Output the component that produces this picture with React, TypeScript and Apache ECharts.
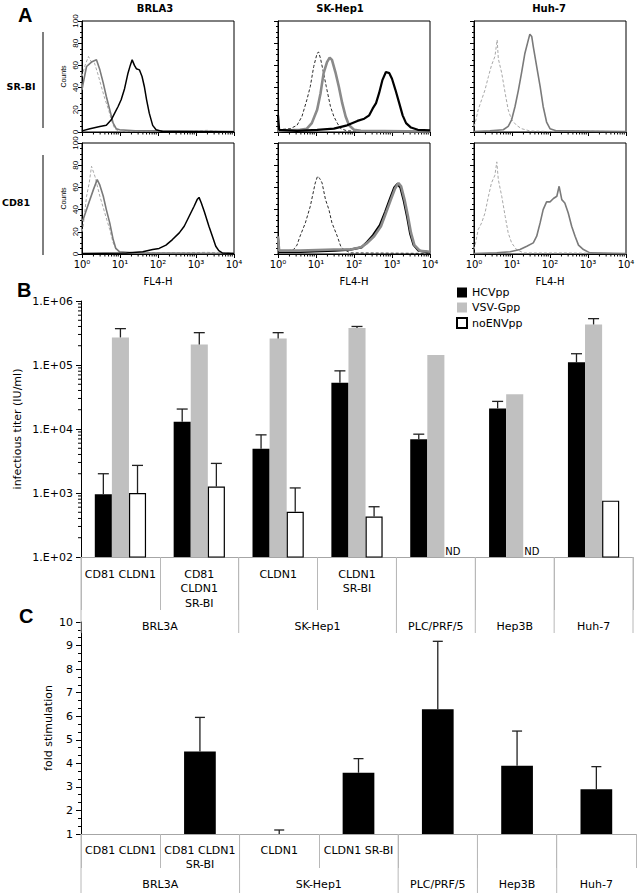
import React, { useEffect, useRef } from "react";
import * as echarts from "echarts";

// ---------------- Panel A : flow cytometry histograms ----------------
// points are [log10(FL4-H), counts]
const brl3aSrbiIso = [[0, 50], [0.08, 60], [0.17, 68], [0.25, 63], [0.33, 62], [0.42, 52], [0.5, 42], [0.6, 30], [0.7, 20], [0.78, 10], [0.86, 3], [0.95, 1], [1.5, 0.5], [2.6, 0.5], [3.3, 1.5], [3.6, 0.5], [4, 0.3]];
const brl3aSrbiGrey = [[0, 38], [0.02, 42], [0.12, 59], [0.25, 63], [0.38, 65], [0.47, 56], [0.56, 44], [0.64, 32], [0.73, 20], [0.82, 8], [0.9, 3], [0.99, 2], [1.4, 1], [2.5, 1], [4, 0.5]];
const brl3aSrbiBlack = [[0, 1], [0.21, 3], [0.47, 5], [0.64, 6], [0.77, 11], [0.86, 17], [0.95, 23], [1.03, 29], [1.12, 39], [1.21, 53], [1.27, 60], [1.32, 65], [1.38, 60], [1.43, 57], [1.51, 56], [1.58, 50], [1.64, 41], [1.7, 29], [1.77, 17], [1.86, 6], [1.95, 2], [2.12, 0.5], [4, 0.3]];

const skhepSrbiIso = [[0, 2], [0.32, 3], [0.5, 6], [0.63, 14], [0.76, 29], [0.85, 41], [0.94, 59], [1.03, 71], [1.07, 72], [1.12, 66], [1.2, 53], [1.27, 41], [1.38, 23], [1.47, 14], [1.56, 8], [1.65, 3], [1.82, 1], [4, 0.5]];
const skhepSrbiGrey = [[0, 1], [0.58, 2], [0.76, 3], [0.89, 8], [1.03, 20], [1.12, 35], [1.2, 53], [1.29, 63], [1.36, 67], [1.42, 65], [1.51, 54], [1.6, 41], [1.69, 26], [1.78, 14], [1.87, 6], [2.0, 2], [2.18, 1], [4, 0.5]];
const skhepSrbiBlack = [[0, 15], [0.03, 2], [0.5, 1], [1.03, 2], [1.47, 3], [1.82, 6], [2.09, 10], [2.27, 12], [2.4, 15], [2.49, 21], [2.58, 26], [2.66, 35], [2.75, 47], [2.84, 54], [2.93, 53], [3.0, 48], [3.09, 38], [3.19, 26], [3.28, 15], [3.37, 8], [3.5, 4], [3.68, 2], [4, 1.5]];

const huh7SrbiIso = [[0, 5], [0.03, 8], [0.11, 20], [0.2, 29], [0.29, 38], [0.38, 50], [0.46, 60], [0.55, 68], [0.61, 83], [0.64, 66], [0.73, 53], [0.82, 35], [0.9, 20], [0.99, 11], [1.12, 6], [1.25, 3], [1.47, 1], [2.0, 0.5], [2.5, 1], [4, 0.3]];
const huh7SrbiGrey = [[0, 0.5], [0.42, 1], [0.77, 2], [0.9, 5], [0.99, 11], [1.08, 23], [1.17, 38], [1.25, 53], [1.34, 71], [1.43, 83], [1.47, 88], [1.52, 86], [1.56, 77], [1.65, 59], [1.74, 41], [1.82, 23], [1.91, 9], [2.0, 3], [2.18, 1], [4, 0.3]];

const brl3aCd81Iso = [[0, 20], [0.03, 25], [0.12, 52], [0.19, 64], [0.25, 79], [0.34, 70], [0.47, 52], [0.6, 37], [0.73, 22], [0.82, 10], [0.9, 4], [1.03, 1], [2.5, 1], [3.3, 1.5], [4, 0.5]];
const brl3aCd81Grey = [[0, 30], [0.03, 31], [0.12, 40], [0.21, 49], [0.3, 58], [0.4, 67], [0.47, 62], [0.56, 52], [0.64, 40], [0.73, 28], [0.82, 13], [0.89, 5], [0.99, 2], [1.34, 1], [4, 0.5]];
const brl3aCd81Black = [[0, 0.5], [1.17, 1], [1.6, 2], [1.86, 4], [2.03, 5], [2.21, 8], [2.38, 13], [2.56, 19], [2.69, 25], [2.82, 34], [2.95, 43], [3.03, 49], [3.08, 51], [3.14, 46], [3.22, 38], [3.34, 25], [3.44, 15], [3.52, 7], [3.6, 3], [3.69, 1], [4, 0.5]];

const skhepCd81Iso = [[0, 1], [0.41, 4], [0.5, 8], [0.58, 16], [0.72, 28], [0.85, 43], [0.98, 64], [1.04, 70], [1.1, 68], [1.16, 64], [1.25, 49], [1.34, 40], [1.42, 28], [1.56, 16], [1.65, 7], [1.73, 4], [1.91, 1], [4, 0.5]];
const skhepCd81Grey = [[0, 16], [0.03, 3], [0.58, 3], [1.47, 4], [1.91, 4], [2.18, 6], [2.35, 10], [2.53, 16], [2.71, 25], [2.84, 37], [2.97, 49], [3.08, 59], [3.17, 64], [3.24, 61], [3.33, 49], [3.42, 34], [3.5, 19], [3.59, 8], [3.73, 3], [4, 2]];
const skhepCd81Black = [[0, 14], [0.03, 2], [0.6, 2], [1.5, 3], [1.9, 4], [2.2, 6], [2.35, 11], [2.5, 17], [2.68, 26], [2.82, 38], [2.95, 50], [3.06, 60], [3.14, 63], [3.22, 60], [3.31, 48], [3.4, 33], [3.48, 18], [3.57, 8], [3.7, 3], [4, 1.5]];

const huh7Cd81Iso = [[0, 4], [0.03, 8], [0.11, 22], [0.2, 28], [0.29, 37], [0.38, 52], [0.46, 64], [0.55, 71], [0.6, 83], [0.64, 67], [0.73, 52], [0.82, 34], [0.9, 19], [0.99, 10], [1.12, 4], [1.3, 1], [2.5, 1], [4, 0.3]];
const huh7Cd81Grey = [[0, 0.5], [0.6, 1], [0.95, 2], [1.21, 4], [1.39, 7], [1.56, 10], [1.65, 16], [1.74, 28], [1.82, 40], [1.91, 47], [2.0, 47], [2.09, 50], [2.18, 52], [2.24, 61], [2.31, 49], [2.39, 46], [2.48, 37], [2.57, 25], [2.66, 16], [2.75, 8], [2.88, 4], [3.05, 1], [4, 0.3]];

const columnTitles = ["BRLA3", "SK-Hep1", "Huh-7"];
const rowTitles = ["SR-BI", "CD81"];
const decadeLabels = ["10⁰", "10¹", "10²", "10³", "10⁴"];

// ---------------- Panel B : infectious titer ----------------
const receptorLabelsB = ["CD81 CLDN1", "CD81\nCLDN1\nSR-BI", "CLDN1", "CLDN1\nSR-BI", "", "", ""];
const hcvpp = [960, 13000, 4900, 53000, 6900, 21000, 110000];
const hcvppErr = [2000, 20500, 8100, 81000, 8300, 27000, 150000];
const vsvgpp = [270000, 210000, 260000, 380000, 143000, 35000, 430000];
const vsvgppErr = [370000, 320000, 320000, 400000, null, null, 530000];
const noenvpp = [1000, 1260, 510, 430, null, null, 760];
const noenvppErr = [2700, 2900, 1200, 610, null, null, null];

// ---------------- Panel C : fold stimulation ----------------
const receptorLabelsC = ["CD81 CLDN1", "CD81 CLDN1\nSR-BI", "CLDN1", "CLDN1 SR-BI", "", "", ""];
const foldStim = [null, 4.5, 1.0, 3.6, 6.3, 3.9, 2.9];
const foldStimErr = [null, 5.95, 1.17, 4.2, 9.18, 5.37, 3.86];

// cell line groups spanning the receptor categories
const cellGroupNames = ["BRL3A", "SK-Hep1", "PLC/PRF/5", "Hep3B", "Huh-7"];
const cellGroupSpans = [[0, 2], [2, 4], [4, 5], [5, 6], [6, 7]];

const FONT = "DejaVu Sans";
const H_LEFT = [82, 278, 474];
const H_TOP = [21, 143];
const H_W = 152;
const H_H = 111;

type Kind = "iso" | "grey" | "black";
const histPanels: { row: number; col: number; curves: [number[][], Kind][] }[] = [
  { row: 0, col: 0, curves: [[brl3aSrbiIso, "iso"], [brl3aSrbiGrey, "grey"], [brl3aSrbiBlack, "black"]] },
  { row: 0, col: 1, curves: [[skhepSrbiIso, "iso"], [skhepSrbiGrey, "grey"], [skhepSrbiBlack, "black"]] },
  { row: 0, col: 2, curves: [[huh7SrbiIso, "iso"], [huh7SrbiGrey, "grey"]] },
  { row: 1, col: 0, curves: [[brl3aCd81Iso, "iso"], [brl3aCd81Grey, "grey"], [brl3aCd81Black, "black"]] },
  { row: 1, col: 1, curves: [[skhepCd81Iso, "iso"], [skhepCd81Black, "black"], [skhepCd81Grey, "grey"]] },
  { row: 1, col: 2, curves: [[huh7Cd81Iso, "iso"], [huh7Cd81Grey, "grey"]] },
];

function curveStyle(kind: Kind, col: number) {
  const heavy = col === 1;
  if (kind === "iso") return heavy ? { color: "#2a2a2a", width: 1, type: [3, 2] } : { color: "#a8a8a8", width: 1, type: [3, 2] };
  if (kind === "grey") return heavy ? { color: "#8a8a8a", width: 2.6 } : { color: "#7a7a7a", width: 1.6 };
  return heavy ? { color: "#000", width: 2.2 } : { color: "#000", width: 1.5 };
}

function logMinorPositions(fromDecade: number, toDecade: number, asLog: boolean) {
  const out: number[] = [];
  for (let d = fromDecade; d < toDecade; d++) {
    for (let k = 2; k <= 9; k++) out.push(asLog ? d + Math.log10(k) : k * Math.pow(10, d));
  }
  return out;
}

function txt(text: string, x: number, y: number, font: string, align = "center", fill = "#000") {
  return {
    type: "text",
    x,
    y,
    silent: true,
    style: { text, font, fill, align, textAlign: align, verticalAlign: "middle", textVerticalAlign: "middle" },
  };
}

function buildOption() {
  const grid: any[] = [];
  const xAxis: any[] = [];
  const yAxis: any[] = [];
  const series: any[] = [];

  // ---------- Panel A ----------
  const histMinor = logMinorPositions(0, 4, true);
  histPanels.forEach((p, i) => {
    grid.push({ left: H_LEFT[p.col], top: H_TOP[p.row], width: H_W, height: H_H, show: true, borderColor: "#000", borderWidth: 1, backgroundColor: "transparent" });
    xAxis.push({
      type: "value", gridIndex: i, min: 0, max: 4, interval: 1,
      axisLine: { show: true, lineStyle: { color: "#000", width: 1 } },
      axisTick: { show: true, length: 4, lineStyle: { color: "#000" } },
      axisLabel: { show: p.row === 1, formatter: (v: number) => decadeLabels[Math.round(v)], fontFamily: FONT, fontSize: 10, color: "#000", margin: 5 },
      splitLine: { show: false },
      name: p.row === 1 ? "FL4-H" : "", nameLocation: "middle", nameGap: 22, nameMoveOverlap: false,
      nameTextStyle: { fontFamily: FONT, fontSize: 10, color: "#000" },
    });
    yAxis.push({
      type: "value", gridIndex: i, min: 0, max: 100, interval: 20,
      axisLine: { show: true, lineStyle: { color: "#000", width: 1 } },
      axisTick: { show: true, length: 4, lineStyle: { color: "#000" } },
      minorTick: { show: true, splitNumber: 4, length: 2, lineStyle: { color: "#000" } },
      axisLabel: { show: p.col === 0, rotate: 90, fontFamily: "Liberation Sans", fontSize: 8, color: "#000", margin: 3 },
      splitLine: { show: false },
      name: p.col === 0 ? "Counts" : "", nameLocation: "middle", nameRotate: 90, nameGap: 15,
      nameTextStyle: { fontFamily: "Liberation Sans", fontSize: 7, color: "#000" },
    });
    p.curves.forEach(([data, kind]) => {
      const ls = curveStyle(kind, p.col);
      series.push({ type: "line", xAxisIndex: i, yAxisIndex: i, data, showSymbol: false, symbol: "none", silent: true, lineStyle: ls, z: kind === "iso" ? 2 : 3 });
    });
    series.push({
      type: "custom", xAxisIndex: i, yAxisIndex: i, silent: true,
      data: histMinor.map((v) => [v, 0]),
      renderItem: (_: any, api: any) => {
        const c = api.coord([api.value(0), 0]);
        return { type: "line", shape: { x1: c[0], y1: c[1], x2: c[0], y2: c[1] + 2.5 }, style: { stroke: "#000", lineWidth: 1 } };
      },
    });
  });

  // ---------- Panel B ----------
  const bi = 6;
  grid.push({ left: 81, top: 301, width: 552, height: 256 });
  xAxis.push({
    type: "category", gridIndex: bi, data: receptorLabelsB,
    axisLine: { show: true, lineStyle: { color: "#a6a6a6", width: 1 } },
    axisTick: { show: true, length: 53, interval: 0, lineStyle: { color: "#b8b8b8" } },
    axisLabel: { interval: 0, fontFamily: FONT, fontSize: 11, lineHeight: 14.5, color: "#000", margin: 10 },
  });
  yAxis.push({
    type: "log", gridIndex: bi, min: 100, max: 1000000, logBase: 10,
    axisLine: { show: true, lineStyle: { color: "#000", width: 1 } },
    axisTick: { show: true, length: 5, lineStyle: { color: "#000" } },
    axisLabel: { formatter: (v: number) => "1.E+" + String(Math.round(Math.log10(v))).padStart(2, "0"), fontFamily: FONT, fontSize: 11, color: "#000", margin: 8 },
    splitLine: { show: false },
    name: "infectious titer (IU/ml)", nameLocation: "middle", nameGap: 58, nameMoveOverlap: false,
    nameTextStyle: { fontFamily: FONT, fontSize: 11, color: "#000" },
  });
  const barSeries = [
    { name: "HCVpp", data: hcvpp, err: hcvppErr, itemStyle: { color: "#000" } },
    { name: "VSV-Gpp", data: vsvgpp, err: vsvgppErr, itemStyle: { color: "#c0c0c0" } },
    { name: "noENVpp", data: noenvpp, err: noenvppErr, itemStyle: { color: "#fff", borderColor: "#000", borderWidth: 1.2 } },
  ];
  const FILL_B = 0.65;
  barSeries.forEach((s, slot) => {
    series.push({ type: "bar", name: s.name, xAxisIndex: bi, yAxisIndex: bi, data: s.data, itemStyle: s.itemStyle, barGap: "0%", barCategoryGap: "35%", silent: true, z: 2 });
    series.push(errorBars(bi, slot, 3, FILL_B, s.data, s.err, 11));
  });
  // ND labels where noENVpp was not determined
  series.push({
    type: "custom", xAxisIndex: bi, yAxisIndex: bi, silent: true,
    data: noenvpp.map((v, i) => (v == null ? [i, 100] : null)).filter(Boolean),
    renderItem: (_: any, api: any) => {
      const band = api.size([1, 1])[0];
      const c = api.coord([api.value(0), api.value(1)]);
      const x = c[0] + band * FILL_B / 3;
      return { type: "text", x, y: c[1] - 6, style: { text: "ND", font: `10px "${FONT}"`, fill: "#000", align: "center", textAlign: "center", verticalAlign: "middle", textVerticalAlign: "middle" } };
    },
  });
  // log minor ticks on the titer axis
  series.push({
    type: "custom", xAxisIndex: bi, yAxisIndex: bi, silent: true,
    data: logMinorPositions(2, 6, false).map((v) => [0, v]),
    renderItem: (_: any, api: any) => {
      const band = api.size([1, 1])[0];
      const c = api.coord([0, api.value(1)]);
      const x = c[0] - band / 2;
      return { type: "line", shape: { x1: x - 3, y1: c[1], x2: x, y2: c[1] }, style: { stroke: "#000", lineWidth: 1 } };
    },
  });
  series.push(groupAxis(bi, 100, 76, 69, true));

  // ---------- Panel C ----------
  const ci = 7;
  grid.push({ left: 81, top: 622, width: 555, height: 212 });
  xAxis.push({
    type: "category", gridIndex: ci, data: receptorLabelsC,
    axisLine: { show: true, lineStyle: { color: "#a6a6a6", width: 1 } },
    axisTick: { show: true, length: 34, interval: 0, lineStyle: { color: "#b8b8b8" } },
    axisLabel: { interval: 0, fontFamily: FONT, fontSize: 11, lineHeight: 14.5, color: "#000", margin: 9 },
  });
  yAxis.push({
    type: "value", gridIndex: ci, min: 1, max: 10, interval: 1,
    axisLine: { show: true, lineStyle: { color: "#000", width: 1 } },
    axisTick: { show: true, length: 5, lineStyle: { color: "#000" } },
    minorTick: { show: true, splitNumber: 3, length: 3, lineStyle: { color: "#000" } },
    axisLabel: { fontFamily: FONT, fontSize: 11, color: "#000", margin: 8 },
    splitLine: { show: false },
    name: "fold stimulation", nameLocation: "middle", nameGap: 27, nameMoveOverlap: false,
    nameTextStyle: { fontFamily: FONT, fontSize: 11, color: "#000" },
  });
  series.push({ type: "bar", name: "fold", xAxisIndex: ci, yAxisIndex: ci, data: foldStim, barWidth: "40%", itemStyle: { color: "#000" }, silent: true });
  series.push(errorBars(ci, 0, 1, 0.4, foldStim, foldStimErr, 10));
  series.push(groupAxis(ci, 1, 59, 50, false));

  return {
    animation: false,
    backgroundColor: "#fff",
    textStyle: { fontFamily: FONT },
    grid, xAxis, yAxis, series,
    legend: {
      data: ["HCVpp", "VSV-Gpp", "noENVpp"], orient: "vertical", left: 451, top: 282,
      itemWidth: 10, itemHeight: 10, itemGap: 4, icon: "rect", selectedMode: false,
      textStyle: { fontFamily: FONT, fontSize: 11, color: "#000" },
    },
    graphic: [
      txt("A", 18, 15, 'bold 20px "Liberation Sans"', "left"),
      txt("B", 17, 290, 'bold 20px "Liberation Sans"', "left"),
      txt("C", 19, 616, 'bold 20px "Liberation Sans"', "left"),
      txt(columnTitles[0], 155, 8, `bold 10px "${FONT}"`),
      txt(columnTitles[1], 340, 8, `bold 10px "${FONT}"`),
      txt(columnTitles[2], 549, 8, `bold 10px "${FONT}"`),
      txt(rowTitles[0], 21, 86, `bold 9.5px "${FONT}"`),
      txt(rowTitles[1], 16, 202, `bold 9.5px "${FONT}"`),
      { type: "line", silent: true, shape: { x1: 43, y1: 32, x2: 43, y2: 128 }, style: { stroke: "#000", lineWidth: 1 } },
      { type: "line", silent: true, shape: { x1: 43, y1: 155, x2: 43, y2: 255 }, style: { stroke: "#000", lineWidth: 1 } },
    ],
  };
}

function errorBars(axisIdx: number, slot: number, nSlots: number, fill: number, values: (number | null)[], errs: (number | null)[], capW: number) {
  const data = values.map((v, i) => (v != null && errs[i] != null ? [i, v, errs[i]] : null)).filter(Boolean);
  return {
    type: "custom", xAxisIndex: axisIdx, yAxisIndex: axisIdx, silent: true, z: 4, data,
    renderItem: (_: any, api: any) => {
      const i = api.value(0), v = api.value(1), e = api.value(2);
      const band = api.size([1, 1])[0];
      const off = (slot - (nSlots - 1) / 2) * band * fill / nSlots;
      const p0 = api.coord([i, v]);
      const p1 = api.coord([i, e]);
      const x = p0[0] + off;
      const st = { stroke: "#222", lineWidth: 1.3 };
      return {
        type: "group",
        children: [
          { type: "line", shape: { x1: x, y1: p0[1], x2: x, y2: p1[1] }, style: st },
          { type: "line", shape: { x1: x - capW / 2, y1: p1[1], x2: x + capW / 2, y2: p1[1] }, style: st },
        ],
      };
    },
  };
}

function groupAxis(axisIdx: number, baseVal: number, sepLen: number, labelGap: number, closeRight: boolean) {
  const last = cellGroupSpans.length - 1;
  return {
    type: "custom", xAxisIndex: axisIdx, yAxisIndex: axisIdx, silent: true,
    data: cellGroupSpans.map((s, k) => [s[0], baseVal, s[1], k]),
    renderItem: (_: any, api: any) => {
      const from = api.value(0), to = api.value(2), k = api.value(3);
      const band = api.size([1, 1])[0];
      const c = api.coord([from, baseVal]);
      const x0 = c[0] - band / 2;
      const x1 = x0 + (to - from) * band;
      const y = c[1];
      const st = { stroke: "#b8b8b8", lineWidth: 1 };
      const children: any[] = [
        { type: "line", shape: { x1: x0, y1: y, x2: x0, y2: y + sepLen }, style: st },
        { type: "text", x: (x0 + x1) / 2, y: y + labelGap, style: { text: cellGroupNames[k], font: `11px "${FONT}"`, fill: "#000", align: "center", textAlign: "center", verticalAlign: "middle", textVerticalAlign: "middle" } },
      ];
      if (closeRight && k === last) children.push({ type: "line", shape: { x1, y1: y, x2: x1, y2: y + sepLen }, style: st });
      return { type: "group", children };
    },
  };
}

export default function App() {
  const ref = useRef<HTMLDivElement>(null);
  useEffect(() => {
    const chart = echarts.init(ref.current!, null, { renderer: "svg" });
    chart.setOption(buildOption() as any);
    return () => chart.dispose();
  }, []);
  return <div ref={ref} style={{ position: "absolute", left: 0, top: 0, width: 638, height: 893, background: "#fff" }} />;
}
